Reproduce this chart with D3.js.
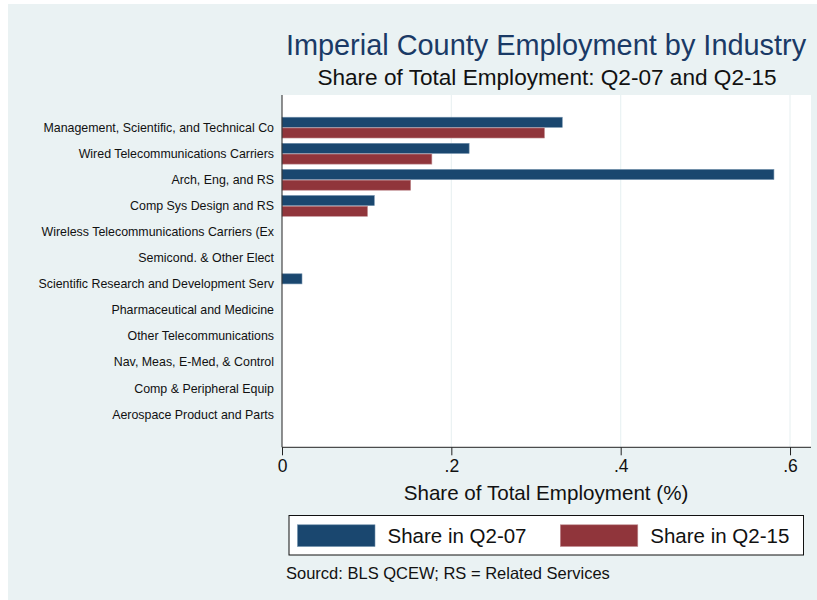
<!DOCTYPE html>
<html>
<head>
<meta charset="utf-8">
<script src="https://cdn.jsdelivr.net/npm/d3@7"></script>
<style>
  body { margin: 0; background: #fff; }
  text { font-family: Helvetica, Arial, "Liberation Sans", sans-serif; }
</style>
</head>
<body>
<script>
// Data
const industries = [
  "Management, Scientific, and Technical Co",
  "Wired Telecommunications Carriers",
  "Arch, Eng, and RS",
  "Comp Sys Design and RS",
  "Wireless Telecommunications Carriers (Ex",
  "Semicond. & Other Elect",
  "Scientific Research and Development Serv",
  "Pharmaceutical and Medicine",
  "Other Telecommunications",
  "Nav, Meas, E-Med, & Control",
  "Comp & Peripheral Equip",
  "Aerospace Product and Parts"
];
const share07 = [0.331, 0.221, 0.581, 0.109, 0, 0, 0.0236, 0, 0, 0, 0, 0];
const share15 = [0.310, 0.177, 0.152, 0.101, 0, 0, 0, 0, 0, 0, 0, 0];
const seriesNames = ["Share in Q2-07", "Share in Q2-15"];
const seriesColors = ["#1a476f", "#90353b"];
const seriesStrokes = ["#6f8fab", "#c08d91"];
const xTicks = [0, 0.2, 0.4, 0.6];

const width = 817, height = 600;
const plot = {left: 282, right: 811, top: 95, bottom: 447.3};

const svg = d3.select("body").append("svg")
    .attr("width", width)
    .attr("height", height)
    .attr("viewBox", [0, 0, width, height]);

// outer background
svg.append("rect")
    .attr("x", 8).attr("y", 4)
    .attr("width", width - 8).attr("height", height - 4)
    .attr("fill", "#eaf2f3");

// plot region
svg.append("rect")
    .attr("x", plot.left).attr("y", plot.top)
    .attr("width", plot.right - plot.left).attr("height", plot.bottom - plot.top)
    .attr("fill", "#fff");

const x = d3.scaleLinear()
    .domain([0, (plot.right - plot.left) / 846.7])
    .range([plot.left, plot.right]);

const y = d3.scaleBand()
    .domain(industries)
    .range([plot.top, plot.bottom])
    .paddingInner(0.18)
    .paddingOuter(0.84);

const ySub = d3.scaleBand()
    .domain(seriesNames)
    .range([0, y.bandwidth()]);

// gridlines
svg.append("g")
  .selectAll("line")
  .data(xTicks.slice(1))
  .join("line")
    .attr("x1", d => x(d)).attr("x2", d => x(d))
    .attr("y1", plot.top).attr("y2", plot.bottom)
    .attr("stroke", "#eaf2f3")
    .attr("stroke-width", 1.2);

// bars
const rows = industries.map((name, i) => ({name, values: [share07[i], share15[i]]}));
svg.append("g")
  .selectAll("g")
  .data(rows)
  .join("g")
    .attr("transform", d => `translate(0,${y(d.name)})`)
  .selectAll("rect")
  .data(d => d.values.map((v, j) => ({v, j})).filter(e => e.v > 0))
  .join("rect")
    .attr("x", x(0))
    .attr("y", d => ySub(seriesNames[d.j]) + 0.3)
    .attr("width", d => x(d.v) - x(0))
    .attr("height", ySub.bandwidth() - 0.6)
    .attr("fill", d => seriesColors[d.j])
    .attr("stroke", d => seriesStrokes[d.j])
    .attr("stroke-width", 0.6);

// x axis
const xAxis = svg.append("g")
    .attr("transform", `translate(0,${plot.bottom})`)
    .call(d3.axisBottom(x)
      .tickValues(xTicks)
      .tickFormat(d => d === 0 ? "0" : d3.format(".1f")(d).replace(/^0/, ""))
      .tickSize(8)
      .tickPadding(4));
xAxis.select(".domain").attr("stroke", "#222").attr("d", `M${plot.left},0H${plot.right}`);
xAxis.selectAll(".tick line").attr("stroke", "#222");
xAxis.selectAll(".tick text")
    .attr("font-size", 17.5)
    .attr("fill", "#111")
    .style("font-family", "Helvetica, Arial, 'Liberation Sans', sans-serif");

// y axis
const yAxis = svg.append("g")
    .attr("transform", `translate(${plot.left},0)`)
    .call(d3.axisLeft(y).tickSize(0).tickPadding(8));
yAxis.select(".domain").attr("stroke", "#222").attr("d", `M0,${plot.top}V${plot.bottom}`);
yAxis.selectAll(".tick text")
    .attr("font-size", 12.4)
    .attr("fill", "#111")
    .style("font-family", "Helvetica, Arial, 'Liberation Sans', sans-serif");

// titles
svg.append("text")
    .attr("x", 546).attr("y", 55)
    .attr("text-anchor", "middle")
    .attr("font-size", 28.9)
    .attr("fill", "#1a3a66")
    .text("Imperial County Employment by Industry");

svg.append("text")
    .attr("x", 547).attr("y", 85)
    .attr("text-anchor", "middle")
    .attr("font-size", 22.6)
    .attr("fill", "#111")
    .text("Share of Total Employment: Q2-07 and Q2-15");

svg.append("text")
    .attr("x", 546).attr("y", 500)
    .attr("text-anchor", "middle")
    .attr("font-size", 20.6)
    .attr("fill", "#111")
    .text("Share of Total Employment (%)");

// legend
const legend = svg.append("g");
legend.append("rect")
    .attr("x", 289).attr("y", 515.5)
    .attr("width", 514.5).attr("height", 39.5)
    .attr("fill", "#fff")
    .attr("stroke", "#111")
    .attr("stroke-width", 1);
const legendX = [297.5, 560.3];
const item = legend.selectAll("g.item")
  .data(seriesNames)
  .join("g")
    .attr("class", "item")
    .attr("transform", (d, i) => `translate(${legendX[i]},524.8)`);
item.append("rect")
    .attr("width", 77.5).attr("height", 21.7)
    .attr("fill", (d, i) => seriesColors[i])
    .attr("stroke", (d, i) => seriesStrokes[i])
    .attr("stroke-width", 0.6);
item.append("text")
    .attr("x", 90).attr("y", 18)
    .attr("font-size", 20.5)
    .attr("fill", "#111")
    .text(d => d);

// note
svg.append("text")
    .attr("x", 286).attr("y", 579)
    .attr("font-size", 16.5)
    .attr("fill", "#111")
    .text("Sourcd: BLS QCEW; RS = Related Services");
</script>
</body>
</html>
